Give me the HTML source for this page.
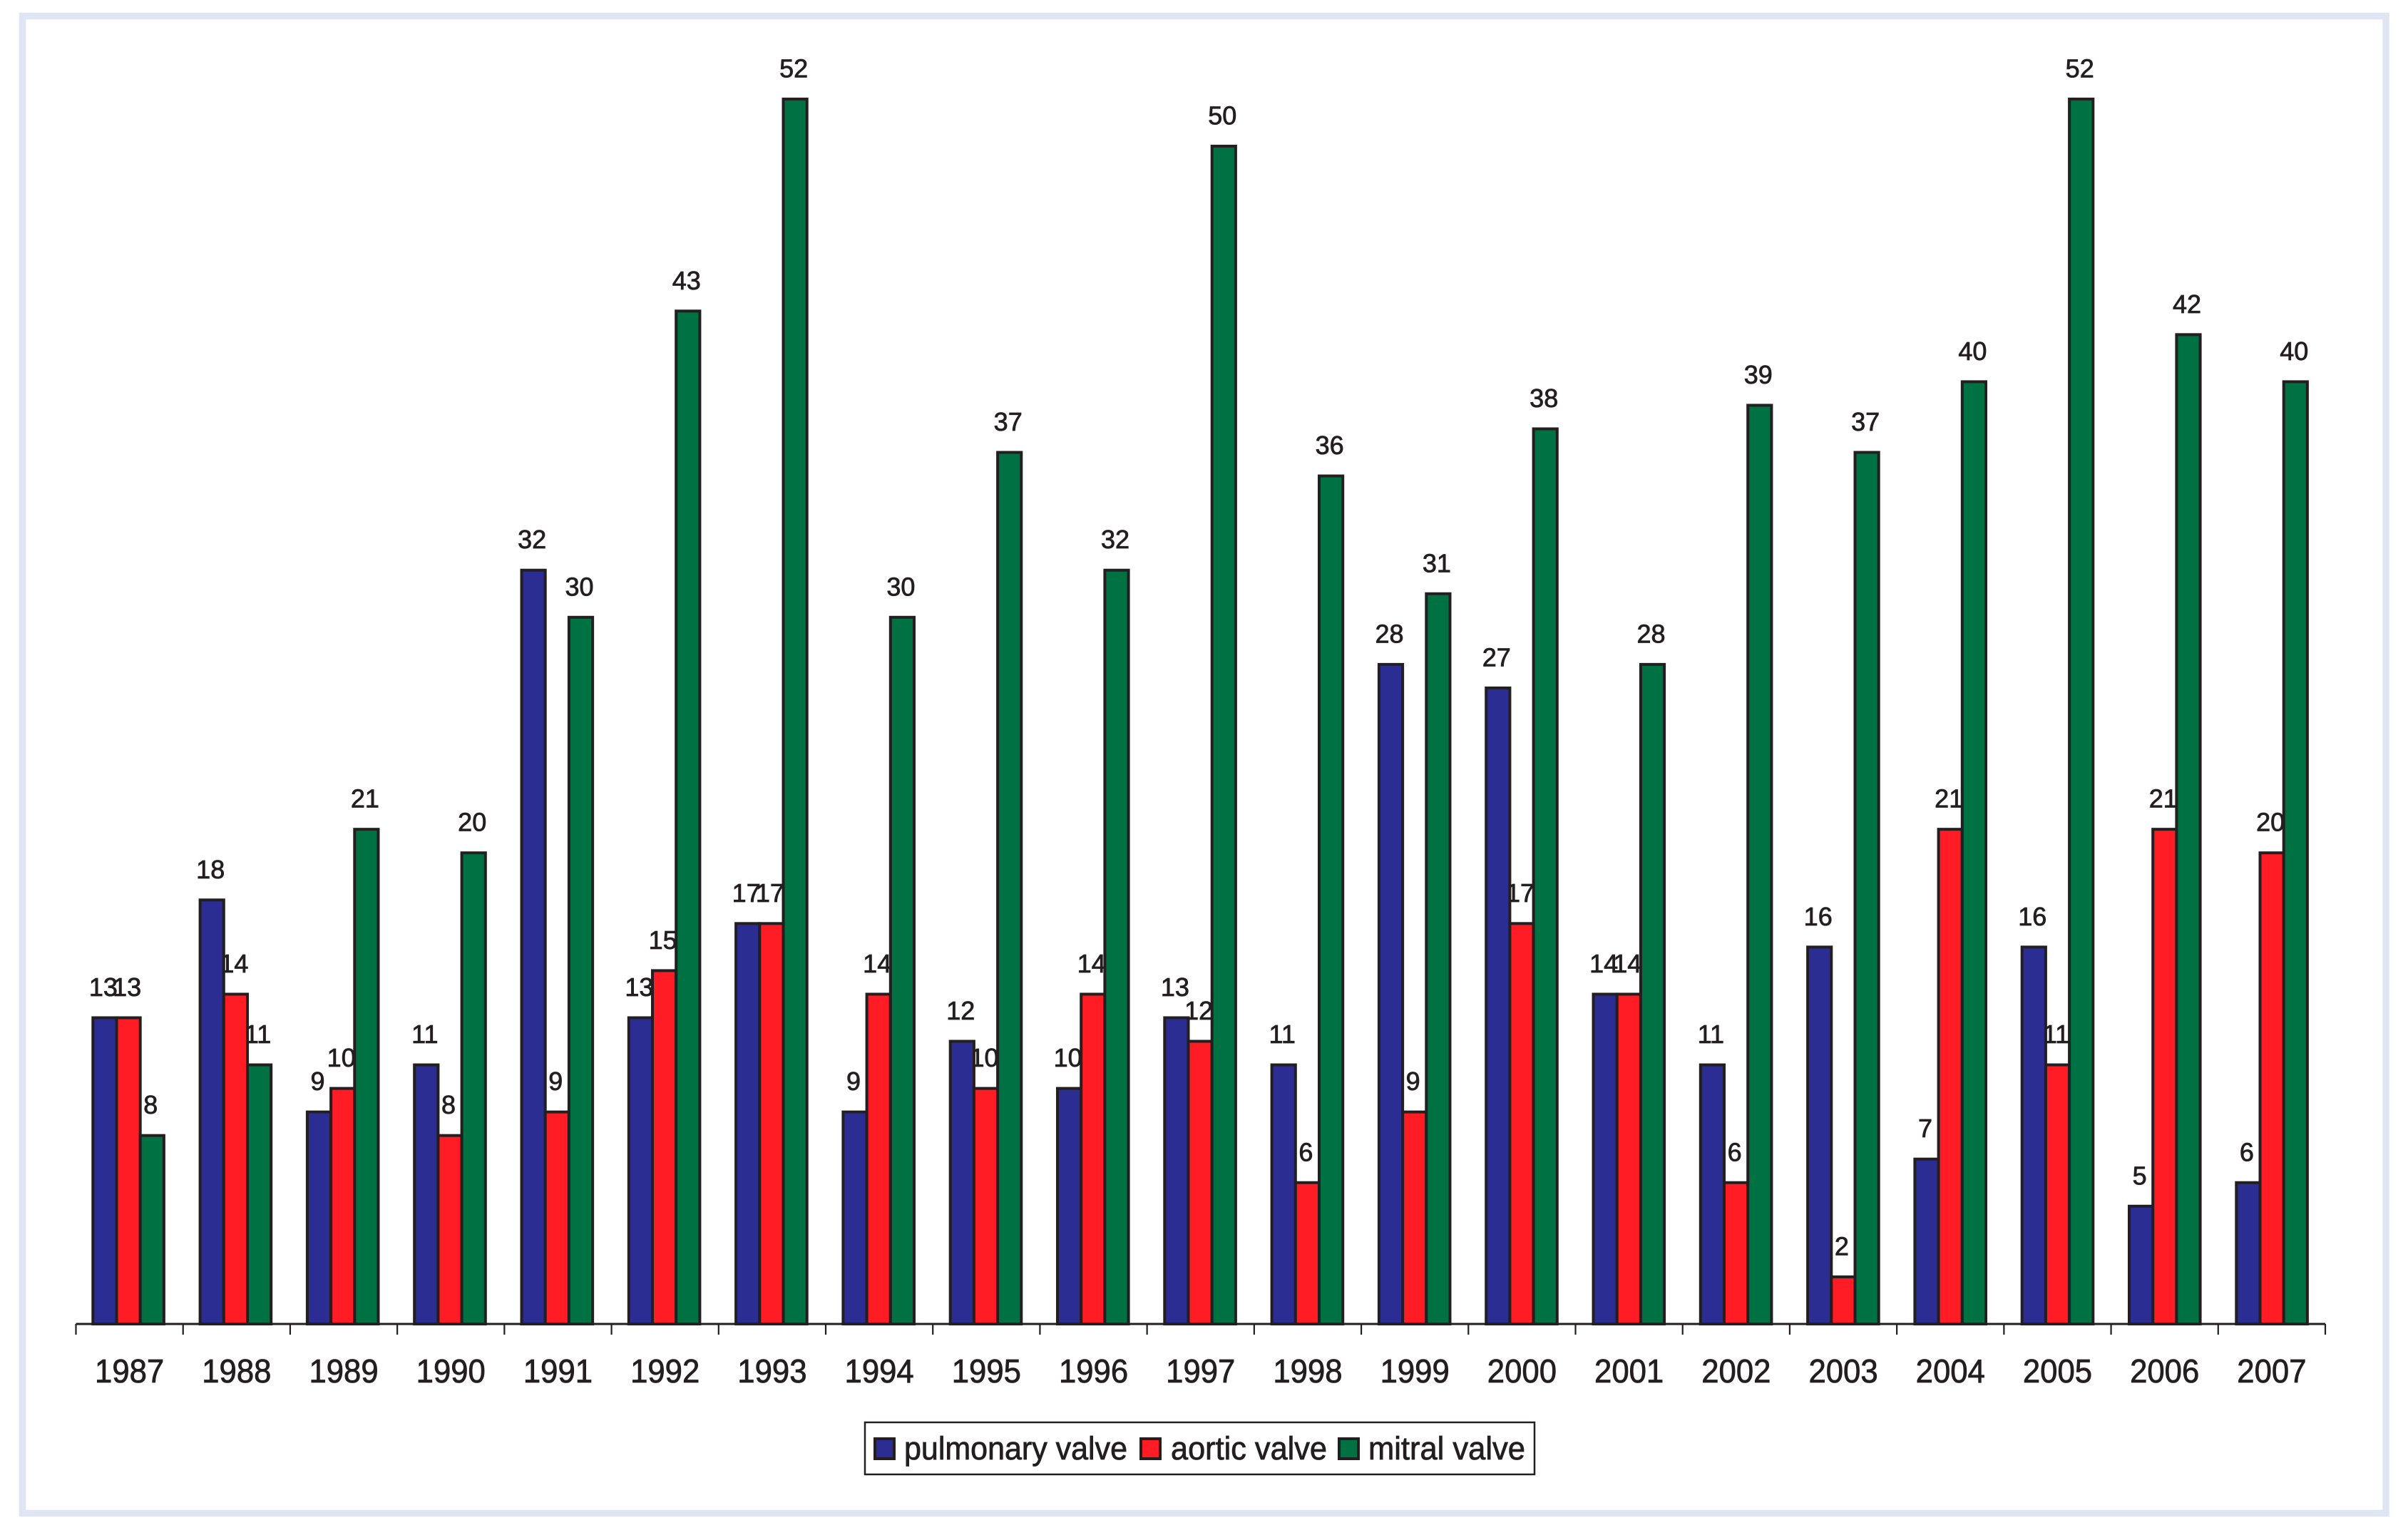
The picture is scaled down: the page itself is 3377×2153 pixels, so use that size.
<!DOCTYPE html>
<html lang="en">
<head>
<meta charset="utf-8">
<title>Valve operations per year, 1987–2007</title>
<style>
  html, body { margin: 0; padding: 0; background: #fff; }
  svg { display: block; }
  text { font-family: "Liberation Sans", Arial, sans-serif; fill: #231f20; stroke: #231f20; stroke-width: 0.8; }
</style>
</head>
<body>
<svg id="chart" xmlns="http://www.w3.org/2000/svg" width="3377" height="2153" viewBox="0 0 3377 2153">
  <rect x="31.5" y="22.5" width="3314.5" height="2100" fill="#ffffff" stroke="#dfe5f3" stroke-width="9.5"/>
  <g id="labels"></g>
  <g id="bars"></g>
  <g id="axis"></g>
  <g>
    <rect x="1213" y="1995" width="939" height="73" fill="#ffffff" stroke="#231f20" stroke-width="2.5"/>
    <rect x="1227" y="2018" width="27" height="28" fill="#2b2d93" stroke="#231f20" stroke-width="4"/>
    <text x="1268" y="2047" font-size="45" textLength="313" lengthAdjust="spacingAndGlyphs">pulmonary valve</text>
    <rect x="1600" y="2018" width="27" height="28" fill="#ff1c24" stroke="#231f20" stroke-width="4"/>
    <text x="1642" y="2047" font-size="45" textLength="219" lengthAdjust="spacingAndGlyphs">aortic valve</text>
    <rect x="1878" y="2018" width="27" height="28" fill="#007142" stroke="#231f20" stroke-width="4"/>
    <text x="1919" y="2047" font-size="45" textLength="220" lengthAdjust="spacingAndGlyphs">mitral valve</text>
  </g>
</svg>
<script>
const categories = ["1987","1988","1989","1990","1991","1992","1993","1994","1995","1996","1997","1998","1999","2000","2001","2002","2003","2004","2005","2006","2007"];
const pulmonaryValve = [13,18,9,11,32,13,17,9,12,10,13,11,28,27,14,11,16,7,16,5,6];
const aorticValve = [13,14,10,8,9,15,17,14,10,14,12,6,9,17,14,6,2,21,11,21,20];
const mitralValve = [8,11,21,20,30,43,52,30,37,32,50,36,31,38,28,39,37,40,52,42,40];

const seriesNames = ["pulmonary", "aortic", "mitral"];
const seriesValues = [pulmonaryValve, aorticValve, mitralValve];
const seriesColors = ["#2b2d93", "#ff1c24", "#007142"];

const NS = "http://www.w3.org/2000/svg";
const axisLeft = 106.5;
const axisRight = 3261;
const axisY = 1857;
const unitHeight = 33.04;
const bandWidth = (axisRight - axisLeft) / categories.length;
const barWidth = 33.2;
const barGroupStart = 130.3;
const barGroupPitch = 150.3;

function xBand(i) { return axisLeft + i * bandWidth; }
function xBar(i, s) { return barGroupStart + i * barGroupPitch + barWidth * s; }
function yValue(v) { return axisY - v * unitHeight; }

const barsGroup = document.getElementById("bars");
const labelsGroup = document.getElementById("labels");
const axisGroup = document.getElementById("axis");

seriesValues.forEach(function (values, s) {
  values.forEach(function (v, i) {
    const bar = document.createElementNS(NS, "rect");
    bar.setAttribute("x", xBar(i, s));
    bar.setAttribute("y", yValue(v));
    bar.setAttribute("width", barWidth);
    bar.setAttribute("height", axisY - yValue(v));
    bar.setAttribute("fill", seriesColors[s]);
    bar.setAttribute("stroke", "#231f20");
    bar.setAttribute("stroke-width", "4");
    
    
    barsGroup.appendChild(bar);

    const label = document.createElementNS(NS, "text");
    label.setAttribute("x", xBar(i, s) + barWidth / 2 - 2);
    label.setAttribute("y", yValue(v) - 30.5);
    label.setAttribute("font-size", "36");
    label.setAttribute("text-anchor", "middle");
    label.textContent = v;
    
    
    labelsGroup.appendChild(label);
  });
});

const axisLine = document.createElementNS(NS, "line");
axisLine.setAttribute("x1", axisLeft);
axisLine.setAttribute("x2", axisRight);
axisLine.setAttribute("y1", axisY);
axisLine.setAttribute("y2", axisY);
axisLine.setAttribute("stroke", "#231f20");
axisLine.setAttribute("stroke-width", "3");


axisGroup.appendChild(axisLine);

for (let i = 0; i <= categories.length; i++) {
  const tick = document.createElementNS(NS, "line");
  tick.setAttribute("x1", xBand(i));
  tick.setAttribute("x2", xBand(i));
  tick.setAttribute("y1", axisY);
  tick.setAttribute("y2", axisY + 15);
  tick.setAttribute("stroke", "#231f20");
  tick.setAttribute("stroke-width", "2.2");
  
  
  axisGroup.appendChild(tick);
}

categories.forEach(function (c, i) {
  const t = document.createElementNS(NS, "text");
  t.setAttribute("transform", "translate(" + (xBand(i) + bandWidth / 2) + ",1939) scale(0.95,1)");
  t.setAttribute("font-size", "46");
  t.setAttribute("text-anchor", "middle");
  t.textContent = c;
  
  
  axisGroup.appendChild(t);
});
</script>
</body>
</html>
